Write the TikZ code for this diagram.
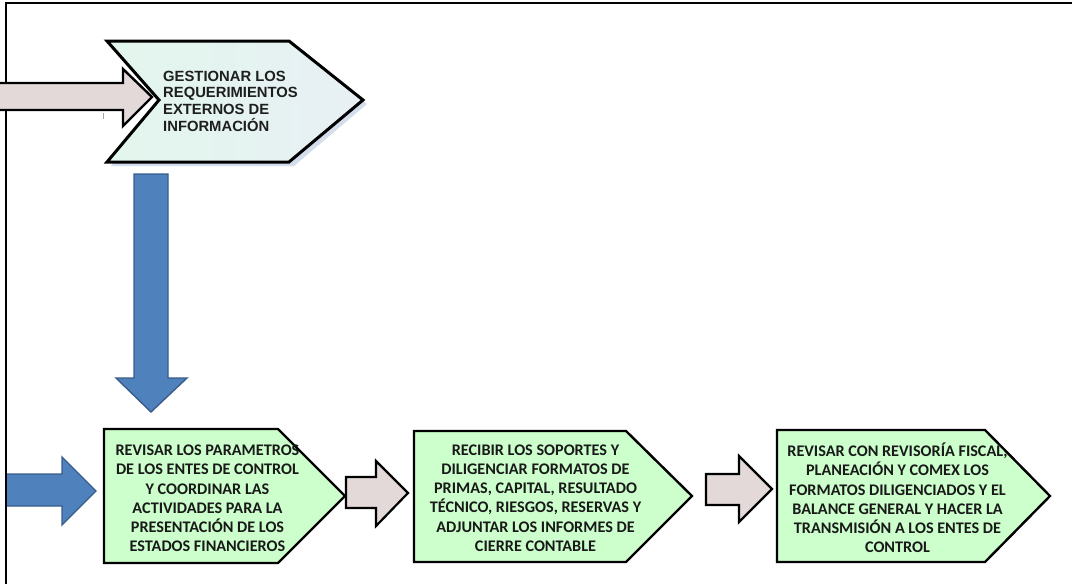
\documentclass[tikz,border=0pt]{standalone}
\usepackage{fontspec}
\newfontfamily\calfont{Carlito}
\newfontfamily\arialfont{Liberation Sans}
\definecolor{arrowpink}{RGB}{226,217,216}
\definecolor{arrowblue}{RGB}{79,129,189}
\definecolor{blueedge}{RGB}{56,93,138}
\definecolor{boxgreen}{RGB}{204,255,204}
\definecolor{mintl}{RGB}{226,246,236}
\definecolor{mintr}{RGB}{232,240,245}
\definecolor{shadowc}{RGB}{212,221,236}
\definecolor{toptext}{RGB}{30,30,30}
\begin{document}
\begin{tikzpicture}[x=1pt,y=-1pt,
  pinkarrow/.style={fill=arrowpink, draw=black, line width=2.2pt, line join=miter},
  bluearrow/.style={fill=arrowblue, draw=blueedge, line width=1.4pt, line join=miter},
  greenbox/.style={fill=boxgreen, draw=black, line width=2.4pt, line join=miter},
  boxtext/.style={font=\calfont\bfseries\fontsize{16.2}{19.2}\selectfont, align=center, text=black!90, inner sep=0pt},
  toplabel/.style={font=\arialfont\bfseries\fontsize{14.8}{16.7}\selectfont, align=left, text=toptext, inner sep=0pt}]
\useasboundingbox (0,0) rectangle (1072,584);
\fill[white] (0,0) rectangle (1072,584);
% frame
\draw[black, line width=1.3pt] (6,584) -- (6,3) -- (1072,3);
% top chevron: shadow, body, border
\fill[shadowc] (111,45) -- (294,45) -- (367,104) -- (294,166) -- (111,166) -- (163,104) -- cycle;
\path[left color=mintl, right color=mintr] (107,41) -- (289,41) -- (363,100) -- (289,162) -- (107,162) -- (159,100) -- cycle;
\draw[black, line width=3pt, line join=miter] (107,41) -- (289,41) -- (363,100) -- (289,162) -- (107,162) -- (159,100) -- cycle;
\node[toplabel, anchor=north west] (t0) at (163,70.5) {GESTIONAR LOS\\REQUERIMIENTOS\\EXTERNOS DE\\INFORMACIÓN};
% incoming pink arrow (top)
\fill[arrowpink] (0,83) -- (123,83) -- (123,69) -- (152,97) -- (123,126) -- (123,110) -- (0,110) -- cycle;
\draw[black, line width=2.4pt, line join=miter] (0,83) -- (123,83) -- (123,69) -- (152,97) -- (123,126) -- (123,110) -- (0,110);
\draw[gray!70, line width=0.8pt] (103,113) -- (103,119);
% blue down arrow
\path[bluearrow] (134,174) -- (168,174) -- (168,378) -- (187,378) -- (151,412) -- (116,378) -- (134,378) -- cycle;
% blue left arrow (bottom)
\fill[arrowblue] (7,474) -- (62,474) -- (62,457) -- (96,491) -- (62,525) -- (62,506) -- (7,506) -- cycle;
\draw[blueedge, line width=1.4pt, line join=miter] (7,474) -- (62,474) -- (62,457) -- (96,491) -- (62,525) -- (62,506) -- (7,506);
% green boxes
\path[greenbox] (104,429) -- (278,429) -- (345,496) -- (278,563) -- (104,563) -- cycle;
\path[greenbox] (414,431) -- (626,431) -- (692,496) -- (626,562) -- (414,562) -- cycle;
\path[greenbox] (777,430) -- (985,430) -- (1050,496) -- (985,562) -- (777,562) -- cycle;
% pink arrows between boxes
\path[pinkarrow] (346,477) -- (376,477) -- (376,461) -- (408,493) -- (376,526) -- (376,508) -- (346,508) -- cycle;
\path[pinkarrow] (706,474) -- (739,474) -- (739,456) -- (772,489) -- (739,522) -- (739,505) -- (706,505) -- cycle;
% texts
\node[boxtext] (t1) at (207.5,498.5) {REVISAR LOS PARAMETROS\\DE LOS ENTES DE CONTROL\\Y COORDINAR LAS\\ACTIVIDADES PARA LA\\PRESENTACIÓN DE LOS\\ESTADOS FINANCIEROS};
\node[boxtext] (t2) at (535.5,498) {RECIBIR LOS SOPORTES Y\\DILIGENCIAR FORMATOS DE\\PRIMAS, CAPITAL, RESULTADO\\TÉCNICO, RIESGOS, RESERVAS Y\\ADJUNTAR LOS INFORMES DE\\CIERRE CONTABLE};
\node[boxtext] (t3) at (897.5,498) {REVISAR CON REVISORÍA FISCAL,\\PLANEACIÓN Y COMEX LOS\\FORMATOS DILIGENCIADOS Y EL\\BALANCE GENERAL Y HACER LA\\TRANSMISIÓN A LOS ENTES DE\\CONTROL};
\end{tikzpicture}
\end{document}
